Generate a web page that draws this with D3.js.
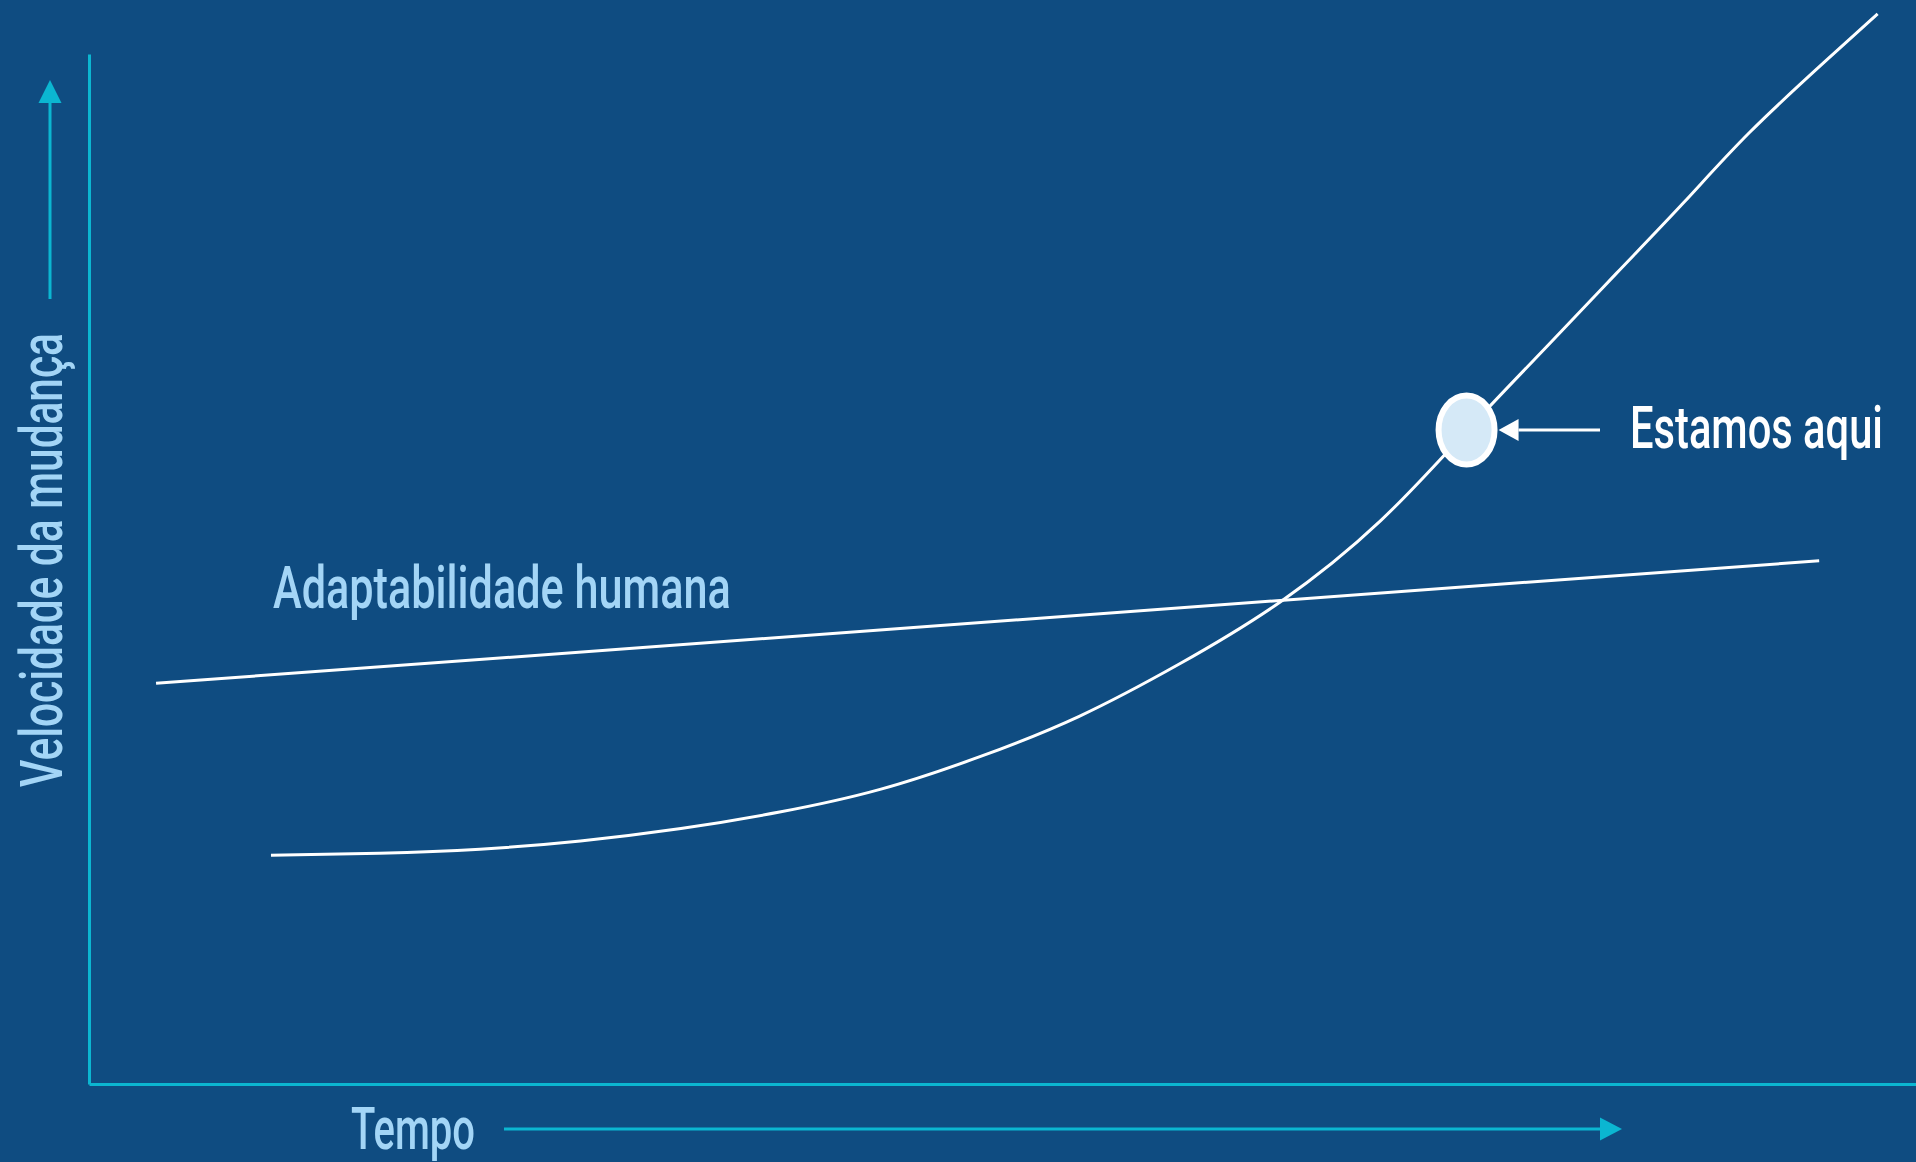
<!DOCTYPE html>
<html>
<head>
<meta charset="utf-8">
<script src="https://cdn.jsdelivr.net/npm/d3@7"></script>
<style>
  html, body { margin: 0; padding: 0; background: #0f4c81; }
  svg { display: block; }
</style>
</head>
<body>
<div id="chart"></div>
<script>
// curve: "velocidade da mudança" over time (arbitrary units 0-100)
const changeTime  = [9.96, 15.9, 21.4, 26.9, 32.4, 37.8, 43.3, 48.8, 54.2, 59.7, 65.2, 70.7, 75.4, 79.9, 83.6, 87.3, 90.9, 95.1, 97.9];
const changeSpeed = [22.2, 22.4, 22.8, 23.6, 24.8, 26.4, 28.6, 31.8, 35.7, 40.8, 46.8, 54.7, 63.4, 71.8, 78.7, 85.6, 92.4, 99.4, 103.9];

// straight line: "Adaptabilidade humana"
const adaptTime  = [3.67, 94.7];
const adaptSpeed = [38.9, 50.8];

// "Estamos aqui" marker
const hereTime = 75.4;
const hereSpeed = 63.5;

const labels = {
  yAxis: 'Velocidade da mudança',
  xAxis: 'Tempo',
  adapt: 'Adaptabilidade humana',
  here: 'Estamos aqui'
};

const width = 1916;
const height = 1162;
const margin = {top: 54, right: 0, bottom: 78, left: 89};

const colors = {
  background: '#0f4c81',
  axis: '#0bb6d1',
  label: '#a3d5f6',
  line: '#ffffff',
  markerFill: '#d5e9f7'
};
const fontFamily = 'Roboto, "DejaVu Sans Condensed", sans-serif';
const fontSize = 59;

const svg = d3.select('#chart')
  .append('svg')
  .attr('width', width)
  .attr('height', height)
  .attr('viewBox', `0 0 ${width} ${height}`);

svg.append('rect')
  .attr('width', width)
  .attr('height', height)
  .attr('fill', colors.background);

const x = d3.scaleLinear()
  .domain([0, 100])
  .range([margin.left, width - margin.right]);

const y = d3.scaleLinear()
  .domain([0, 100])
  .range([height - margin.bottom, margin.top]);

// axes: just the domain lines, no ticks
const xAxis = d3.axisBottom(x).tickValues([]).tickSizeOuter(0);
const yAxis = d3.axisLeft(y).tickValues([]).tickSizeOuter(0);

svg.append('g')
  .attr('transform', `translate(0,${y(0)})`)
  .call(xAxis)
  .call(g => g.select('.domain').attr('stroke', colors.axis).attr('stroke-width', 3));

svg.append('g')
  .attr('transform', `translate(${x(0)},0)`)
  .call(yAxis)
  .call(g => g.select('.domain').attr('stroke', colors.axis).attr('stroke-width', 3));

// arrow helper (line + filled triangle head)
function arrow(x1, y1, x2, y2, color, stroke, headLen, headHalf) {
  const ang = Math.atan2(y2 - y1, x2 - x1);
  const bx = x2 - headLen * Math.cos(ang);
  const by = y2 - headLen * Math.sin(ang);
  svg.append('line')
    .attr('x1', x1).attr('y1', y1)
    .attr('x2', bx).attr('y2', by)
    .attr('stroke', color)
    .attr('stroke-width', stroke);
  const px = -Math.sin(ang) * headHalf;
  const py = Math.cos(ang) * headHalf;
  svg.append('path')
    .attr('d', `M${x2},${y2}L${bx + px},${by + py}L${bx - px},${by - py}Z`)
    .attr('fill', color);
}

// condensed text: squeeze the glyphs horizontally to the wanted width
function condensedText(str, tx, ty, targetWidth, color, rotate, anchor) {
  const g = svg.append('g');
  const t = g.append('text')
    .attr('font-family', fontFamily)
    .attr('font-size', fontSize)
    .attr('font-weight', 500)
    .attr('fill', color)
    .attr('text-anchor', anchor || 'start')
    .text(str);
  const natural = t.node().getComputedTextLength();
  const sx = targetWidth / natural;
  g.attr('transform', `translate(${tx},${ty}) rotate(${rotate || 0}) scale(${sx},1)`);
  return g;
}

// y axis title + arrow
condensedText(labels.yAxis, 62, 560, 454, colors.label, -90, 'middle');
arrow(50, 299, 50, 80, colors.axis, 3, 23, 11.5);

// x axis title + arrow
condensedText(labels.xAxis, 351, 1149, 124, colors.label);
arrow(504, 1129, 1622, 1129, colors.axis, 3, 22, 11.5);

const adaptData = adaptTime.map((t, i) => ({t: t, v: adaptSpeed[i]}));
const changeData = changeTime.map((t, i) => ({t: t, v: changeSpeed[i]}));

const line = d3.line()
  .x(d => x(d.t))
  .y(d => y(d.v));

// adaptability line
svg.append('path')
  .datum(adaptData)
  .attr('d', line)
  .attr('fill', 'none')
  .attr('stroke', colors.line)
  .attr('stroke-width', 3);

// speed of change curve
svg.append('path')
  .datum(changeData)
  .attr('d', line.curve(d3.curveNatural))
  .attr('fill', 'none')
  .attr('stroke', colors.line)
  .attr('stroke-width', 3);

condensedText(labels.adapt, 273, 608, 458, colors.label);

// "we are here" marker
const hx = x(hereTime);
const hy = y(hereSpeed);

svg.append('ellipse')
  .attr('cx', hx)
  .attr('cy', hy)
  .attr('rx', 28)
  .attr('ry', 34.5)
  .attr('fill', colors.markerFill)
  .attr('stroke', colors.line)
  .attr('stroke-width', 6);

arrow(1600, hy, hx + 32, hy, colors.line, 3, 20, 11);

condensedText(labels.here, 1630, 448, 253, '#ffffff');
</script>
</body>
</html>
